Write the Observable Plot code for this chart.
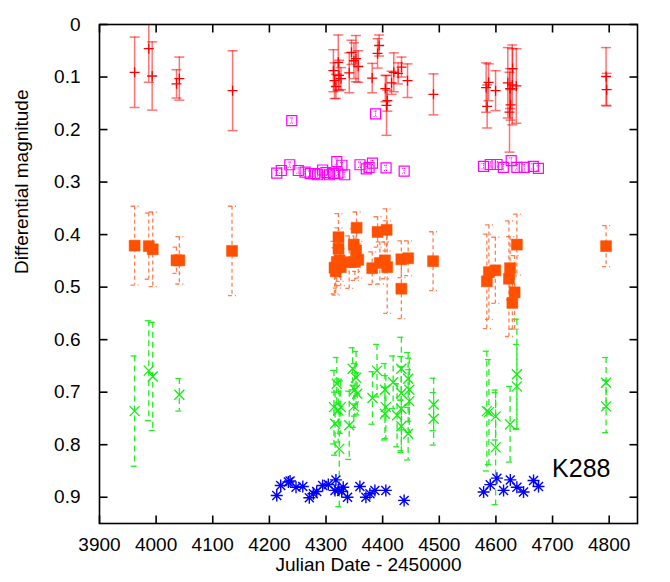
<!DOCTYPE html>
<html>
<head>
<meta charset="utf-8">
<script src="https://cdn.jsdelivr.net/npm/d3@7"></script>
<script src="https://cdn.jsdelivr.net/npm/@observablehq/plot@0.6"></script>
<style>
  html, body { margin: 0; padding: 0; background: white; }
  #chart { width: 670px; height: 582px; }
</style>
</head>
<body>
<div id="chart"></div>
<script>
// ---- Data: [Julian Date - 2450000, differential magnitude, error] ----
const redSeries = [
  [3962, 0.091, 0.067], [3987, 0.046, 0.064], [3993, 0.098, 0.065],
  [4036, 0.113, 0.027], [4041, 0.103, 0.041], [4135, 0.126, 0.076],
  [4313, 0.088, 0.040], [4315, 0.107, 0.034], [4317.5, 0.118, 0.023],
  [4321.6, 0.072, 0.052], [4323, 0.097, 0.029], [4326.4, 0.103, 0.021],
  [4341, 0.092, 0.038], [4345, 0.053, 0.023], [4349.3, 0.069, 0.034],
  [4352.8, 0.065, 0.044], [4356.8, 0.080, 0.030], [4381.5, 0.102, 0.028],
  [4391, 0.055, 0.028], [4393.8, 0.040, 0.020], [4404.7, 0.122, 0.025],
  [4406.8, 0.154, 0.057], [4408.3, 0.145, 0.020], [4415.7, 0.111, 0.022],
  [4419.7, 0.091, 0.037], [4427.3, 0.093, 0.020], [4433.3, 0.081, 0.019],
  [4443.9, 0.107, 0.032], [4489.7, 0.133, 0.039], [4582.7, 0.120, 0.047],
  [4584.5, 0.156, 0.041], [4587, 0.110, 0.035], [4599.4, 0.126, 0.038],
  [4621, 0.111, 0.067], [4624, 0.167, 0.076], [4625, 0.122, 0.038],
  [4625.9, 0.153, 0.029], [4628.9, 0.115, 0.076], [4629.4, 0.084, 0.038],
  [4636, 0.117, 0.071], [4794.5, 0.099, 0.055], [4795.5, 0.124, 0.031]
];
const magentaSeries = [
  [4213, 0.283, 0.005], [4221, 0.278, 0.005], [4236, 0.267, 0.005],
  [4239.5, 0.183, 0.005], [4251, 0.278, 0.005], [4263, 0.281, 0.005],
  [4272, 0.284, 0.005], [4280, 0.284, 0.005], [4285, 0.286, 0.005],
  [4294, 0.277, 0.005], [4300, 0.282, 0.005], [4306, 0.286, 0.005],
  [4313, 0.284, 0.005], [4319, 0.261, 0.005], [4321, 0.283, 0.005],
  [4328, 0.268, 0.005], [4333, 0.286, 0.005], [4360, 0.267, 0.005],
  [4371, 0.275, 0.005], [4376, 0.272, 0.005], [4382, 0.264, 0.005],
  [4387.5, 0.170, 0.005], [4406, 0.273, 0.005], [4438, 0.279, 0.005],
  [4578, 0.270, 0.005], [4590, 0.2665, 0.005], [4602, 0.2665, 0.005],
  [4613, 0.272, 0.005], [4627, 0.259, 0.005], [4637, 0.272, 0.005],
  [4650, 0.272, 0.005], [4666, 0.270, 0.005], [4675, 0.274, 0.005]
];
const orangeSeries = [
  [3962, 0.421, 0.075], [3987, 0.422, 0.063], [3994, 0.428, 0.071],
  [4036, 0.449, 0.025], [4041, 0.449, 0.045], [4134, 0.431, 0.085],
  [4315, 0.463, 0.050], [4317, 0.470, 0.045], [4319, 0.452, 0.050],
  [4322, 0.405, 0.045], [4322, 0.427, 0.040], [4324, 0.449, 0.040],
  [4326, 0.462, 0.035], [4341, 0.4525, 0.050], [4349, 0.419, 0.030],
  [4351, 0.452, 0.035], [4353, 0.430, 0.040], [4354, 0.387, 0.030],
  [4357, 0.448, 0.035], [4381.5, 0.464, 0.031], [4391, 0.395, 0.029],
  [4395, 0.454, 0.040], [4404, 0.449, 0.035], [4407, 0.391, 0.040],
  [4408, 0.462, 0.088], [4433, 0.447, 0.035], [4433, 0.503, 0.057],
  [4445, 0.445, 0.033], [4489, 0.4506, 0.056], [4584, 0.489, 0.090],
  [4587.6, 0.4715, 0.090], [4599, 0.468, 0.063], [4623, 0.484, 0.110],
  [4625, 0.464, 0.060], [4629, 0.530, 0.050], [4633, 0.510, 0.070],
  [4637, 0.419, 0.058], [4794.5, 0.422, 0.039]
];
const greenSeries = [
  [3962, 0.736, 0.105], [3987, 0.659, 0.095], [3994, 0.670, 0.103],
  [4041, 0.705, 0.031], [4314, 0.7285, 0.070], [4316, 0.760, 0.060],
  [4319, 0.684, 0.050], [4321.6, 0.735, 0.060], [4323.4, 0.808, 0.110],
  [4326, 0.7285, 0.050], [4341, 0.763, 0.065], [4347, 0.6555, 0.040],
  [4349, 0.727, 0.040], [4351, 0.6955, 0.050], [4353, 0.6726, 0.050],
  [4355, 0.703, 0.040], [4382, 0.711, 0.050], [4390, 0.659, 0.050],
  [4404, 0.6955, 0.050], [4405.6, 0.7285, 0.060], [4404, 0.741, 0.050],
  [4418.5, 0.681, 0.050], [4425.5, 0.744, 0.060], [4433, 0.6555, 0.060],
  [4433, 0.702, 0.070], [4433, 0.7316, 0.080], [4433, 0.765, 0.050],
  [4445, 0.6745, 0.050], [4447, 0.6955, 0.060], [4447, 0.717, 0.060],
  [4445, 0.779, 0.050], [4490, 0.7234, 0.050], [4490, 0.7507, 0.050],
  [4584, 0.736, 0.114], [4587.6, 0.738, 0.100], [4599.5, 0.746, 0.045],
  [4599.5, 0.805, 0.109], [4625, 0.761, 0.072], [4637, 0.666, 0.105],
  [4637, 0.689, 0.080], [4794.5, 0.682, 0.048], [4794.5, 0.727, 0.050]
];
const blueSeries = [
  [4213, 0.8966], [4220, 0.8776], [4233.5, 0.871], [4236.5, 0.869],
  [4247, 0.881], [4259, 0.8795], [4270.5, 0.901], [4277.6, 0.8934],
  [4283.5, 0.889], [4294, 0.8776], [4304, 0.8757], [4317.5, 0.867],
  [4315.8, 0.887], [4321.6, 0.886], [4327.6, 0.889], [4330.4, 0.881],
  [4338, 0.900], [4359.8, 0.8795], [4370.4, 0.900], [4377.5, 0.8934],
  [4386.3, 0.887], [4405.6, 0.887], [4437.9, 0.906], [4578.3, 0.890],
  [4590, 0.876], [4601.7, 0.8637], [4613.5, 0.887], [4625.4, 0.867],
  [4637, 0.881], [4648.8, 0.890], [4666.4, 0.868], [4675.2, 0.8795]
];
const xTicks = [3900, 4000, 4100, 4200, 4300, 4400, 4500, 4600, 4700, 4800];
const yTicks = [0, 0.1, 0.2, 0.3, 0.4, 0.5, 0.6, 0.7, 0.8, 0.9];
const xLabel = "Julian Date - 2450000";
const yLabel = "Differential magnitude";
const starName = "K288";

// ---- symbols ----
const rad = s => Math.sqrt(s / Math.PI);
const hline = {draw(c, s) { const r = rad(s); c.moveTo(-r, 0); c.lineTo(r, 0); }};
const plusSym = {draw(c, s) { const r = rad(s); c.moveTo(-r, 0); c.lineTo(r, 0); c.moveTo(0, -r); c.lineTo(0, r); }};
const timesSym = {draw(c, s) { const r = rad(s); c.moveTo(-r, -r); c.lineTo(r, r); c.moveTo(-r, r); c.lineTo(r, -r); }};
const starSym = {draw(c, s) { const r = rad(s), q = r * 0.75; c.moveTo(-r, 0); c.lineTo(r, 0); c.moveTo(0, -r); c.lineTo(0, r); c.moveTo(-q, -q); c.lineTo(q, q); c.moveTo(-q, q); c.lineTo(q, -q); }};
const squareSym = {draw(c, s) { const r = rad(s); c.moveTo(-r, -r); c.lineTo(r, -r); c.lineTo(r, r); c.lineTo(-r, r); c.closePath(); }};
const tickUp = {draw(c, s) { const r = rad(s); c.moveTo(0, 0); c.lineTo(0, -r); }};
const tickDown = {draw(c, s) { const r = rad(s); c.moveTo(0, 0); c.lineTo(0, r); }};
const tickRight = {draw(c, s) { const r = rad(s); c.moveTo(0, 0); c.lineTo(r, 0); }};
const tickLeft = {draw(c, s) { const r = rad(s); c.moveTo(0, 0); c.lineTo(-r, 0); }};

const rows = a => a.map(([x, m, e]) => ({x, m, e: e ?? 0}));
const red = rows(redSeries), magenta = rows(magentaSeries), orange = rows(orangeSeries),
      green = rows(greenSeries), blue = rows(blueSeries);

function errorBars(data, style, capR) {
  return [
    Plot.ruleX(data, {x: "x", y1: d => d.m - d.e, y2: d => d.m + d.e, clip: true, ...style}),
    Plot.dot(data, {x: "x", y: d => d.m - d.e, symbol: hline, r: capR, fill: "none", clip: true, ...style}),
    Plot.dot(data, {x: "x", y: d => d.m + d.e, symbol: hline, r: capR, fill: "none", clip: true, ...style})
  ];
}

const font = "'Liberation Sans', Arial, Helvetica, sans-serif";
const fs = 19;
const chart = Plot.plot({
  width: 670, height: 582,
  marginLeft: 99, marginRight: 33, marginTop: 24, marginBottom: 59,
  x: {domain: [3900, 4850]},
  y: {domain: [0, 0.95], reverse: true},
  style: {fontFamily: font, fontSize: fs + "px", background: "white", color: "black"},
  marks: [
    // red
    ...errorBars(red, {stroke: "#ff0000", strokeOpacity: 0.55, strokeWidth: 1.5}, 5),
    Plot.dot(red, {x: "x", y: "m", symbol: plusSym, r: 5, stroke: "#ff0000", fill: "none", strokeWidth: 1.3, clip: true}),
    // magenta
    ...errorBars(magenta, {stroke: "#ff00ff", strokeWidth: 1, strokeDasharray: "1,1"}, 2),
    Plot.dot(magenta, {x: "x", y: "m", symbol: squareSym, r: 5, stroke: "#ff00ff", fill: "none", strokeWidth: 1.2}),
    // orange
    ...errorBars(orange, {stroke: "#ff6a35", strokeOpacity: 0.85, strokeWidth: 1.3, strokeDasharray: "4,3"}, 4),
    Plot.dot(orange, {x: "x", y: "m", symbol: squareSym, r: 5.5, fill: "#ff5000", stroke: "#ff5000", strokeWidth: 0.5}),
    // green
    ...errorBars(green, {stroke: "#22ee22", strokeWidth: 1.3, strokeDasharray: "6,4"}, 4),
    Plot.dot(green, {x: "x", y: "m", symbol: timesSym, r: 5, stroke: "#11ee11", fill: "none", strokeWidth: 1.3}),
    // blue
    Plot.dot(blue, {x: "x", y: "m", symbol: starSym, r: 6, stroke: "#0000ff", fill: "none", strokeWidth: 1.4}),
    // frame and inward ticks
    Plot.frame({stroke: "black", strokeWidth: 1.6}),
    Plot.dot(xTicks, {x: d => d, frameAnchor: "bottom", symbol: tickUp, r: 8, stroke: "black", strokeWidth: 1.6}),
    Plot.dot(xTicks, {x: d => d, frameAnchor: "top", symbol: tickDown, r: 8, stroke: "black", strokeWidth: 1.6}),
    Plot.dot(yTicks, {y: d => d, frameAnchor: "left", symbol: tickRight, r: 8, stroke: "black", strokeWidth: 1.6}),
    Plot.dot(yTicks, {y: d => d, frameAnchor: "right", symbol: tickLeft, r: 8, stroke: "black", strokeWidth: 1.6}),
    Plot.axisX(xTicks, {anchor: "bottom", tickSize: 0, tickPadding: 14, label: null, fontSize: fs, tickFormat: d => String(d)}),
    Plot.axisY(yTicks, {anchor: "left", tickSize: 0, tickPadding: 19, label: null, fontSize: fs, tickFormat: d => String(d)}),
    Plot.text([xLabel], {frameAnchor: "bottom", dy: 47, fontSize: fs}),
    Plot.text([yLabel], {frameAnchor: "left", dx: -78, rotate: -90, fontSize: fs}),
    Plot.text([starName], {frameAnchor: "bottom-right", dx: -27, dy: -47, textAnchor: "end", fontSize: 25})
  ]
});
document.getElementById("chart").appendChild(chart);
</script>
</body>
</html>
